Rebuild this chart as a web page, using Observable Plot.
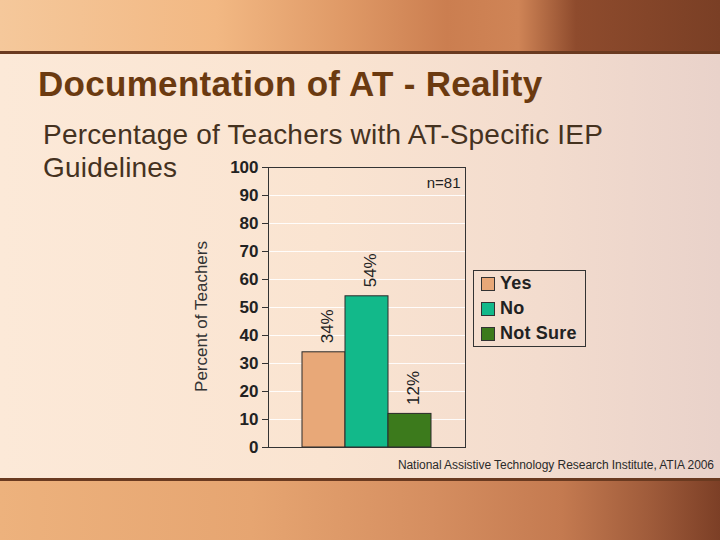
<!DOCTYPE html>
<html>
<head>
<meta charset="utf-8">
<script src="https://cdn.jsdelivr.net/npm/d3@7"></script>
<script src="https://cdn.jsdelivr.net/npm/@observablehq/plot@0.6"></script>
<style>
  html, body { margin: 0; padding: 0; }
  body { width: 720px; height: 540px; overflow: hidden; font-family: "Liberation Sans", Arial, sans-serif; }
  #page { position: relative; width: 720px; height: 540px;
    background: linear-gradient(90deg, #FCE9D8 0%, #FAE4D1 45%, #F3DCCE 75%, #E9D2CA 100%); }
  .band-top { position: absolute; left: 0; top: 0; width: 720px; height: 51px;
    background: linear-gradient(90deg, #F5C89B 0%, #F2B883 30%, #DF9966 48%, #CB7E50 62%, #CF8456 72%, #8E4B2D 80%, #7A3F25 100%); }
  .band-bot { position: absolute; left: 0; top: 481px; width: 720px; height: 59px;
    background: linear-gradient(90deg, #EDB27D 0%, #E6A571 35%, #D58E60 60%, #C47A50 78%, #A05C3B 90%, #7C3F26 100%); }
  .rule { position: absolute; left: 0; width: 720px; height: 3px; background: #6A3A20; }
  #title { position: absolute; left: 38px; top: 64px; font-size: 35px; font-weight: bold; color: #6B3A10; white-space: nowrap; letter-spacing: 0.3px; }
  .sub { position: absolute; left: 43px; font-size: 28px; color: #45321F; white-space: nowrap; letter-spacing: 0.2px; }
  #caption { position: absolute; right: 6px; top: 458px; font-size: 12px; color: #2a2a2a; white-space: nowrap; letter-spacing: -0.05px; }
  #chart { position: absolute; left: 0; top: 0; }
  #legend { position: absolute; left: 473px; top: 270px; width: 113px; height: 77px; border: 1px solid #333;
    box-sizing: border-box; padding-top: 0px; padding-left: 7px; }
  .li { display: flex; align-items: center; height: 25px; font-weight: bold; font-size: 18px; color: #222; letter-spacing: 0.2px; }
  .sw { width: 14px; height: 14px; border: 1px solid #333; margin-right: 5px; box-sizing: border-box; }
</style>
</head>
<body>
<div id="page">
  <div class="band-top"></div>
  <div class="rule" style="top:51px"></div>
  <div class="rule" style="top:478px"></div>
  <div class="band-bot"></div>
  <div id="title"></div>
  <div class="sub" id="sub1" style="top:119px"></div>
  <div class="sub" id="sub2" style="top:152px"></div>
  <div id="caption"></div>
  <div id="chart"></div>
  <div id="legend"></div>
</div>
<script>
// ---- data ----
const categories = ["Yes", "No", "Not Sure"];
const percents = [34, 54, 12];
const yTicks = [0, 10, 20, 30, 40, 50, 60, 70, 80, 90, 100];
const notes = ["n=81"];
const yLabel = "Percent of Teachers";
const titleText = "Documentation of AT - Reality";
const subtitleLines = ["Percentage of Teachers with AT-Specific IEP", "Guidelines"];
const captionText = "National Assistive Technology Research Institute, ATIA 2006";
const colors = ["#E8A878", "#12B98A", "#3C7A1C"];

const data = categories.map((c, i) => ({cat: c, val: percents[i]}));

document.getElementById("title").textContent = titleText;
document.getElementById("sub1").textContent = subtitleLines[0];
document.getElementById("sub2").textContent = subtitleLines[1];
document.getElementById("caption").textContent = captionText;

const plot = Plot.plot({
  width: 720,
  height: 540,
  marginLeft: 268,
  marginRight: 255,
  marginTop: 167,
  marginBottom: 93,
  style: {background: "transparent", overflow: "visible", fontFamily: "'Liberation Sans', Arial, sans-serif", color: "#222"},
  x: {domain: categories, paddingInner: 0, paddingOuter: 0.74, axis: null},
  y: {domain: [0, 100], axis: null},
  color: {domain: categories, range: colors},
  marks: [
    Plot.gridY(yTicks.filter(t => t > 0 && t < 100), {stroke: "#ffffff", strokeOpacity: 0.9, strokeWidth: 1}),
    Plot.barY(data, {x: "cat", y: "val", fill: "cat", stroke: "#2a2a2a", strokeWidth: 1}),
    Plot.frame({stroke: "#333", strokeWidth: 1}),
    Plot.axisY({ticks: yTicks, tickSize: 6, tickPadding: 4, fontSize: 17, fontWeight: "bold", label: null, stroke: "#333", letterSpacing: "-0.3px"}),
    Plot.text(data, {x: "cat", y: "val", text: d => d.val + "%", rotate: -90, textAnchor: "start", dy: -9, dx: 4, fontSize: 17, fill: "#222"}),
    Plot.text(notes, {frameAnchor: "top-right", text: d => d, textAnchor: "end", lineAnchor: "top", dx: -5, dy: 10, fontSize: 15, fill: "#222", letterSpacing: "0.6px"}),
    Plot.text([yLabel], {frameAnchor: "left", text: d => d, rotate: -90, textAnchor: "middle", dx: -67, dy: 9, fontSize: 17, fill: "#333", letterSpacing: "0.7px"})
  ]
});
document.getElementById("chart").appendChild(plot);

const legend = document.getElementById("legend");
categories.forEach((c, i) => {
  const row = document.createElement("div");
  row.className = "li";
  const sw = document.createElement("span");
  sw.className = "sw";
  sw.style.background = colors[i];
  const t = document.createElement("span");
  t.textContent = c;
  row.appendChild(sw);
  row.appendChild(t);
  legend.appendChild(row);
});
</script>
</body>
</html>
